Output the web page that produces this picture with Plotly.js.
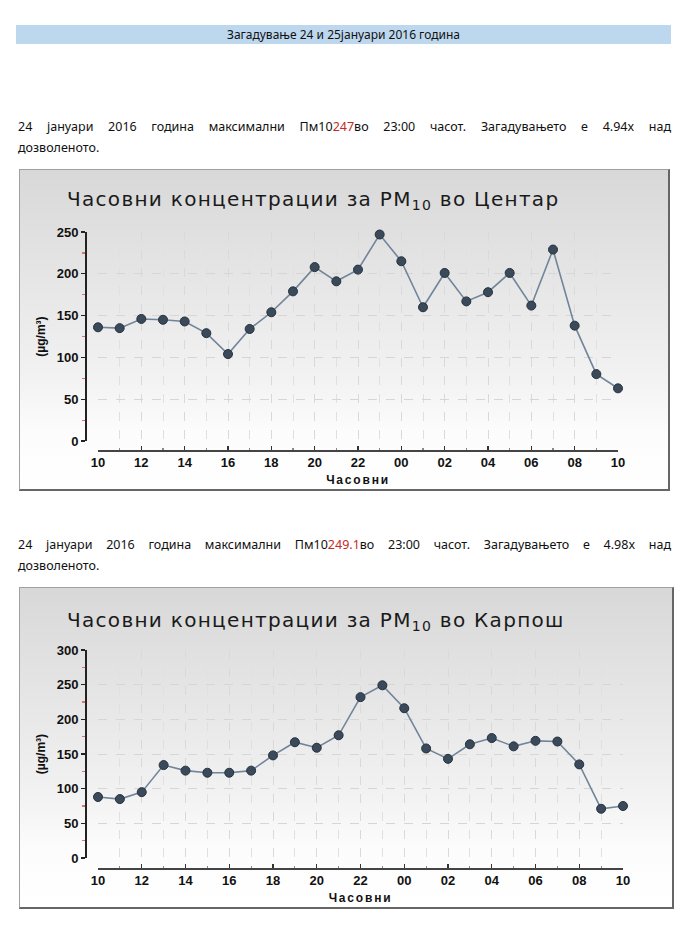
<!DOCTYPE html>
<html><head><meta charset="utf-8">
<script src="https://cdn.plot.ly/plotly-3.0.1.min.js"></script>
<style>
body{margin:0;background:#fff;width:690px;height:929px;position:relative;font-family:'Noto Sans',sans-serif;overflow:hidden;}
.bar{position:absolute;left:16px;top:25px;width:655px;height:19px;background:#bdd7ee;text-align:center;font-size:12px;line-height:19px;color:#111;}
.line{position:absolute;left:18px;width:653px;font-size:12.5px;line-height:16px;color:#111;white-space:nowrap;}
.just{text-align:justify;text-align-last:justify;white-space:normal;}
.red{color:#c62828;}
.box{position:absolute;left:19px;border-left:1px solid #a0a0a0;border-top:1px solid #a0a0a0;border-right:2px solid #666;border-bottom:2px solid #666;
 background:linear-gradient(to bottom,#d8d8d8 0%,#e6e6e6 35%,#f2f2f2 65%,#fcfcfc 82%,#ffffff 100%);}
.xtitle{letter-spacing:1.8px;}
.gtitle{letter-spacing:1.3px;}
</style></head>
<body>
<div class="bar">Загадување 24 и 25јануари 2016 година</div>

<div class="line just" style="top:119px;">24 јануари 2016 година максимални Пм10<span class="red">247</span>во 23:00 часот. Загадувањето е 4.94x над</div>
<div class="line" style="top:140px;">дозволеното.</div>
<div class="box" id="c1" style="top:169px;width:648px;height:319px;"></div>

<div class="line just" style="top:537px;">24 јануари 2016 година максимални Пм10<span class="red">249.1</span>во 23:00 часот. Загадувањето е 4.98x над</div>
<div class="line" style="top:558px;">дозволеното.</div>
<div class="box" id="c2" style="top:587px;width:652px;height:319px;"></div>

<script>
// ---- data ----
const hourLabels = ['10','11','12','13','14','15','16','17','18','19','20','21','22','23','00','01','02','03','04','05','06','07','08','09','10'];
const centarPM10 = [136,135,146,145,143,129,104,134,154,179,208,191,205,247,215,160,201,167,178,201,162,229,138,80,63];
const karposPM10 = [88,85,95,134,126,123,123,126,148,167,159,177,232,249.1,216,158,143,164,173,161,169,168,135,71,75];
const yTicksCentar = [0,50,100,150,200,250];
const yTicksKarpos = [0,50,100,150,200,250,300];
const titleCentar = 'Часовни концентрации за PM<sub>10</sub> во Центар';
const titleKarpos = 'Часовни концентрации за PM<sub>10</sub> во Карпош';
const xTitle = 'Часовни';
const yTitle = '(µg/m³)';

const xIdx = hourLabels.map((_, i) => i);
const xTickVals = xIdx.filter(i => i % 2 === 0);
const xTickText = xTickVals.map(i => hourLabels[i]);

function makeChart(id, values, yTicks, title, g) {
  const W = g.W, H = g.H;
  const L = g.yLine, R = W - g.xEnd, T = g.yTop, B = H - g.xLine;
  const pw = W - L - R, ph = H - T - B;
  const xd0 = (g.xStart - g.yLine) / pw;
  const yd0 = (g.xLine - g.yZero) / ph;
  const tickFont = {family:'Liberation Sans, Arial, sans-serif', size:13, color:'#111', weight:'bold'};
  const trace = {
    x: xIdx, y: values, type:'scatter', mode:'lines+markers', cliponaxis:false,
    line:{color:'#71849a', width:1.6},
    marker:{size:9, color:'#3a4a5a', line:{color:'#26313c', width:1}},
    hoverinfo:'skip'
  };
  const layout = {
    width: W, height: H,
    margin:{l:L, r:R, t:T, b:B, pad:0},
    paper_bgcolor:'rgba(0,0,0,0)', plot_bgcolor:'rgba(0,0,0,0)',
    showlegend:false,
    title:{text:title, x:g.titleX / W, xanchor:'left', xref:'container', y:1 - g.titleY / H, yanchor:'middle', yref:'container',
      font:{family:'DejaVu Sans, Verdana, sans-serif', size:20, color:'#1a1a1a'}},
    xaxis:{
      domain:[xd0, 1], range:[0, hourLabels.length - 1], anchor:'free', position:0,
      tickmode:'array', tickvals:xTickVals, ticktext:xTickText,
      ticks:'inside', ticklen:4, tickwidth:1.2, tickcolor:'#333',
      showline:true, linecolor:'#444', linewidth:1.5, zeroline:false,
      showgrid:true, gridcolor:'#d9d9d9', griddash:'dash', gridwidth:1,
      minor:{tickmode:'linear', tick0:0, dtick:1, ticks:'inside', ticklen:2, tickcolor:'#888', showgrid:true, gridcolor:'#e0e0e0', griddash:'dash', gridwidth:1},
      tickfont:tickFont, fixedrange:true,
      title:{text:xTitle, standoff:6, font:{family:'Liberation Sans, Arial, sans-serif', size:12, color:'#111', weight:'bold'}}
    },
    yaxis:{
      domain:[yd0, 1], range:[0, yTicks[yTicks.length - 1]], anchor:'free', position:0,
      tickmode:'array', tickvals:yTicks,
      ticks:'outside', ticklen:4, tickwidth:1.2, tickcolor:'#222',
      showline:true, linecolor:'#222', linewidth:1.5, zeroline:false,
      showgrid:true, gridcolor:'#d6d6d6', griddash:'dash', gridwidth:1,
      minor:{tickmode:'linear', tick0:25, dtick:50, ticks:'outside', ticklen:3, tickcolor:'#e07070', showgrid:false},
      tickfont:tickFont, fixedrange:true,
      title:{text:yTitle, standoff:7, font:{family:'Liberation Sans, Arial, sans-serif', size:12, color:'#111', weight:'bold'}}
    }
  };
  Plotly.newPlot(id, [trace], layout, {displayModeBar:false, staticPlot:true});
}

makeChart('c1', centarPM10, yTicksCentar, titleCentar,
  {W:648, H:319, yLine:65, xStart:78, xEnd:598, yTop:62, yZero:271, xLine:280, titleX:47, titleY:29});
makeChart('c2', karposPM10, yTicksKarpos, titleKarpos,
  {W:652, H:319, yLine:65, xStart:78, xEnd:603, yTop:62, yZero:270, xLine:280, titleX:47, titleY:32});
</script>
</body></html>
